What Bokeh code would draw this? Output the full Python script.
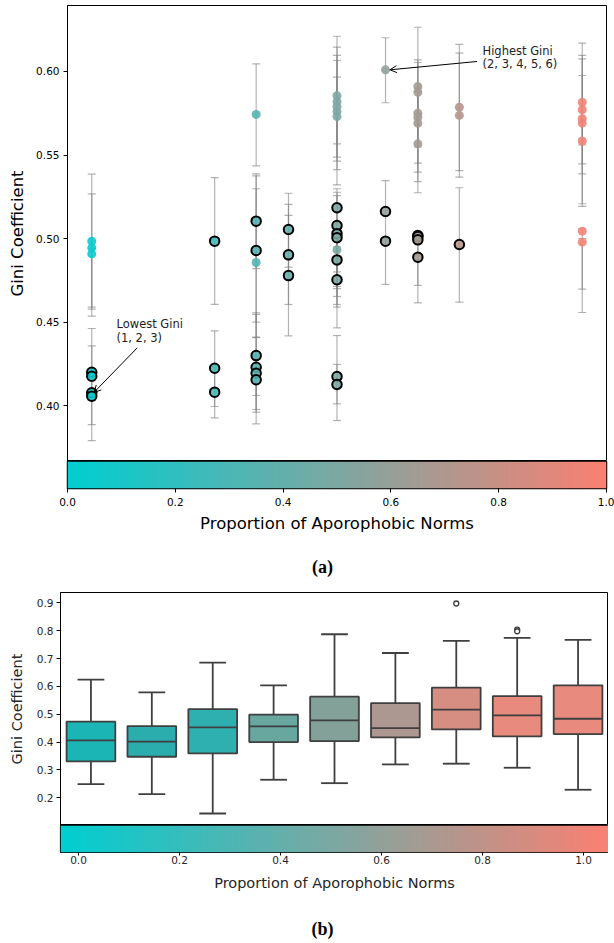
import numpy as np
from bokeh.plotting import figure
from bokeh.layouts import column
from bokeh.models import Range1d, FixedTicker, Arrow, OpenHead, PrintfTickFormatter
from bokeh.core.properties import value
from bokeh.embed import file_html
from bokeh.resources import INLINE

# ---------------- (a) data ----------------
# points without edge
fx = [0.045, 0.045, 0.045,
      0.35, 0.35,
      0.5, 0.5, 0.5, 0.5, 0.5, 0.5,
      0.59,
      0.65, 0.65, 0.65, 0.65, 0.65, 0.65,
      0.727, 0.727,
      0.955, 0.955, 0.955, 0.955, 0.955, 0.955, 0.955]
fy = [0.4984, 0.4944, 0.4908,
      0.5743, 0.4856,
      0.5855, 0.5820, 0.5790, 0.5760, 0.5730, 0.4932,
      0.6010,
      0.5910, 0.5876, 0.5750, 0.5726, 0.5690, 0.5567,
      0.5786, 0.5737,
      0.5816, 0.5771, 0.5717, 0.5691, 0.5583, 0.5044, 0.4978]
flo = [0.4589, 0.4577, 0.4535,
       0.5435, 0.4407,
       0.5567, 0.5487, 0.5463, 0.5413, 0.5321, 0.4700,
       0.5813,
       0.5548, 0.5682, 0.5451, 0.5397, 0.5341, 0.5274,
       0.5407, 0.5367,
       0.5447, 0.5387, 0.5208, 0.5192, 0.5560, 0.4697, 0.4557]
fhi = [0.5385, 0.5267, 0.4940,
       0.6046, 0.5298,
       0.6211, 0.6146, 0.6096, 0.6066, 0.5966, 0.5298,
       0.6202,
       0.6265, 0.6070, 0.6054, 0.5880, 0.5900, 0.5750,
       0.6162, 0.6110,
       0.6170, 0.6096, 0.6076, 0.5976, 0.5600, 0.5060, 0.5000]

# points with black edge
ex = [0.045, 0.045, 0.045, 0.045,
      0.273, 0.273, 0.273,
      0.35, 0.35, 0.35, 0.35, 0.35, 0.35,
      0.41, 0.41, 0.41,
      0.5, 0.5, 0.5, 0.5, 0.5, 0.5, 0.5, 0.5,
      0.59, 0.59,
      0.65, 0.65, 0.65, 0.65,
      0.727]
ey = [0.4199, 0.4175, 0.4076, 0.4056,
      0.4984, 0.4223, 0.4080,
      0.5104, 0.4928, 0.4299, 0.4229, 0.4193, 0.4154,
      0.5054, 0.4902, 0.4778,
      0.5184, 0.5078, 0.5029, 0.5005, 0.4872, 0.4753, 0.4174, 0.4126,
      0.5162, 0.4984,
      0.5018, 0.5012, 0.4992, 0.4888,
      0.4964]
elo = [0.3886, 0.3790, 0.4050, 0.4030,
       0.4605, 0.3994, 0.3926,
       0.4820, 0.4499, 0.4060, 0.3890, 0.3976, 0.3960,
       0.4828, 0.4605, 0.4417,
       0.4729, 0.4713, 0.4653, 0.4589, 0.4465, 0.4605, 0.4010, 0.3910,
       0.4990, 0.4725,
       0.4719, 0.4615, 0.4980, 0.4870,
       0.4619]
ehi = [0.4461, 0.4357, 0.4100, 0.4080,
       0.5364, 0.4447, 0.4234,
       0.5387, 0.5375, 0.4555, 0.4545, 0.4410, 0.4300,
       0.5271, 0.5204, 0.5138,
       0.5277, 0.5257, 0.5100, 0.5050, 0.4950, 0.4800, 0.4419, 0.4246,
       0.5347, 0.5000,
       0.5040, 0.5030, 0.5010, 0.4900,
       0.5304]

a_yticks = [0.40, 0.45, 0.50, 0.55, 0.60]
cbar_ticks = [0.0, 0.2, 0.4, 0.6, 0.8, 1.0]

ann_hi_lines = ["Highest Gini", "(2, 3, 4, 5, 6)"]
ann_lo_lines = ["Lowest Gini", "(1, 2, 3)"]

# ---------------- (b) data ----------------
b_pos = [0, 1, 2, 3, 4, 5, 6, 7, 8]
b_lo = [0.2489, 0.2130, 0.1435, 0.2647, 0.2525, 0.3198, 0.3223, 0.3079, 0.2288]
b_q1 = [0.3306, 0.3474, 0.3594, 0.4000, 0.4036, 0.4169, 0.4457, 0.4205, 0.4288]
b_med = [0.4061, 0.4014, 0.4529, 0.4565, 0.4781, 0.4504, 0.5165, 0.4960, 0.4838]
b_q3 = [0.4734, 0.4576, 0.5187, 0.4986, 0.5633, 0.5403, 0.5957, 0.5655, 0.6040]
b_hi = [0.6244, 0.5788, 0.6856, 0.6040, 0.7874, 0.7201, 0.7633, 0.7741, 0.7669]
flier_pos = [6, 7, 7]
flier_y = [0.8978, 0.8043, 0.7982]
b_yticks = [0.2, 0.3, 0.4, 0.5, 0.6, 0.7, 0.8, 0.9]
box_colors = ["#1bb5b5", "#2cadad", "#2eb0b0", "#68a6a0", "#83a099",
              "#ac9890", "#d68e82", "#e88a7e", "#e88a7e"]

FONT = "DejaVu Sans"
C0 = np.array([0, 206, 209], dtype=float)
C1 = np.array([250, 128, 114], dtype=float)


def cmap(t):
    c = C0 + (C1 - C0) * t
    return "#%02x%02x%02x" % tuple(int(round(v)) for v in c)


def gradient_rgba(n=256):
    t = np.linspace(0, 1, n)
    img = np.zeros((1, n), dtype=np.uint32)
    view = img.view(dtype=np.uint8).reshape((1, n, 4))
    for i, tt in enumerate(t):
        c = C0 + (C1 - C0) * tt
        view[0, i, 0] = int(round(c[0]))
        view[0, i, 1] = int(round(c[1]))
        view[0, i, 2] = int(round(c[2]))
        view[0, i, 3] = 255
    return img


def style_axis(ax, size, color, label_size):
    ax.major_label_text_font = FONT
    ax.major_label_text_font_size = size
    ax.major_label_text_color = color
    ax.axis_label_text_font = FONT
    ax.axis_label_text_font_size = label_size
    ax.axis_label_text_font_style = "normal"
    ax.axis_label_text_color = color
    ax.axis_line_color = "black"
    ax.major_tick_line_color = "black"
    ax.minor_tick_line_color = None
    ax.major_tick_in = 0
    ax.major_tick_out = 4


def base_fig(**kw):
    f = figure(output_backend="svg", toolbar_location=None, frame_align=False, **kw)
    f.xgrid.visible = False
    f.ygrid.visible = False
    return f


# ---------------- figure (a) ----------------
p1 = base_fig(width=614, height=461, x_range=Range1d(0, 1), y_range=Range1d(0.36647, 0.63952),
              x_axis_location=None,
              min_border_left=67, min_border_right=8, min_border_top=5, min_border_bottom=0)
p1.outline_line_color = "black"
p1.outline_line_alpha = 1
style_axis(p1.yaxis[0], "10.5px", "black", "16.5px")
p1.yaxis.ticker = FixedTicker(ticks=a_yticks)
p1.yaxis.formatter = PrintfTickFormatter(format="%.2f")
p1.yaxis.axis_label = "Gini Coefficient"
p1.yaxis.major_label_standoff = 4
p1.yaxis.axis_label_standoff = 6

all_x = fx + ex
all_lo = flo + elo
all_hi = fhi + ehi
p1.segment(x0=all_x, y0=all_lo, x1=all_x, y1=all_hi, line_color="gray", line_alpha=0.6, line_width=1.2)
p1.scatter(x=all_x + all_x, y=all_lo + all_hi, marker="dash", size=8, line_color="gray",
           line_alpha=0.6, line_width=1.2)
p1.scatter(x=fx, y=fy, size=9, fill_color=[cmap(v) for v in fx], line_color=None, fill_alpha=0.9)
p1.scatter(x=ex, y=ey, size=9.5, fill_color=[cmap(v) for v in ex], line_color="black",
           line_width=2, fill_alpha=0.9)

# annotations
hi_pt = (0.59, 0.6010)
lo_pt = (0.045, 0.4056)
p1.add_layout(Arrow(end=OpenHead(size=7, line_width=1, line_color="black"),
                    x_start=0.760, y_start=0.6060, x_end=hi_pt[0] + 0.008, y_end=hi_pt[1],
                    line_width=1, line_color="black"))
p1.add_layout(Arrow(end=OpenHead(size=7, line_width=1, line_color="black"),
                    x_start=0.1293, y_start=0.4345, x_end=lo_pt[0] + 0.004, y_end=lo_pt[1] + 0.0022,
                    line_width=1, line_color="black"))
p1.text(x=[0.770, 0.770], y=[0.6122, 0.6046], text=ann_hi_lines, text_font=value(FONT),
        text_font_size="11.5px", text_baseline="middle", text_align="left", text_color="#222222")
p1.text(x=[0.0909, 0.0909], y=[0.4489, 0.4403], text=ann_lo_lines, text_font=value(FONT),
        text_font_size="11.5px", text_baseline="middle", text_align="left", text_color="#222222")

# colorbar (a)
p2 = base_fig(width=614, height=79, x_range=Range1d(0, 1), y_range=Range1d(0, 1),
              y_axis_location=None,
              min_border_left=67, min_border_right=8, min_border_top=0, min_border_bottom=52)
p2.outline_line_color = "black"
p2.outline_line_width = 1.5
p2.image_rgba(image=[gradient_rgba()], x=0, y=0, dw=1, dh=1)
style_axis(p2.xaxis[0], "10.5px", "black", "16.5px")
p2.xaxis.ticker = FixedTicker(ticks=cbar_ticks)
p2.xaxis.formatter = PrintfTickFormatter(format="%.1f")
p2.xaxis.axis_label = "Proportion of Aporophobic Norms"
p2.xaxis.major_label_standoff = 5
p2.xaxis.axis_label_standoff = 5
p2.xaxis.axis_line_color = None

# caption (a)
p3 = base_fig(width=614, height=52, x_range=Range1d(0, 614), y_range=Range1d(0, 52),
              x_axis_location=None, y_axis_location=None, min_border=0)
p3.outline_line_color = None
p3.text(x=[322], y=[26], text=["(a)"], text_font=value("Liberation Serif"), text_font_style="bold",
        text_font_size="18px", text_align="center", text_baseline="middle", text_color="black")

# ---------------- figure (b) ----------------
p4 = base_fig(width=608, height=233, x_range=Range1d(-0.5, 8.5), y_range=Range1d(0.1004, 0.9374),
              x_axis_location=None,
              min_border_left=60, min_border_right=0, min_border_top=0, min_border_bottom=0)
p4.outline_line_color = "black"
p4.outline_line_alpha = 1
style_axis(p4.yaxis[0], "10.5px", "#262626", "14.5px")
p4.yaxis.ticker = FixedTicker(ticks=b_yticks)
p4.yaxis.formatter = PrintfTickFormatter(format="%.1f")
p4.yaxis.axis_label = "Gini Coefficient"
p4.yaxis.major_label_standoff = 3
p4.yaxis.axis_label_standoff = 9

BOXC = "#3f3f3f"
bw = 0.4
cw = 0.22
p4.segment(x0=b_pos, y0=b_q3, x1=b_pos, y1=b_hi, line_color=BOXC, line_width=1.8)
p4.segment(x0=b_pos, y0=b_lo, x1=b_pos, y1=b_q1, line_color=BOXC, line_width=1.8)
p4.segment(x0=[v - cw for v in b_pos], y0=b_hi, x1=[v + cw for v in b_pos], y1=b_hi,
           line_color=BOXC, line_width=1.8)
p4.segment(x0=[v - cw for v in b_pos], y0=b_lo, x1=[v + cw for v in b_pos], y1=b_lo,
           line_color=BOXC, line_width=1.8)
p4.quad(left=[v - bw for v in b_pos], right=[v + bw for v in b_pos], bottom=b_q1, top=b_q3,
        fill_color=box_colors, line_color=BOXC, line_width=1.8)
p4.segment(x0=[v - bw for v in b_pos], y0=b_med, x1=[v + bw for v in b_pos], y1=b_med,
           line_color=BOXC, line_width=1.8)
p4.scatter(x=flier_pos, y=flier_y, size=5, fill_color="white", line_color=BOXC, line_width=1.3)

# colorbar (b)
p5 = base_fig(width=608, height=75, x_range=Range1d(-0.0356, 1.0495), y_range=Range1d(0, 1),
              y_axis_location=None,
              min_border_left=60, min_border_right=0, min_border_top=0, min_border_bottom=48)
p5.outline_line_color = "black"
p5.outline_line_width = 1.2
p5.image_rgba(image=[gradient_rgba()], x=-0.0356, y=0, dw=1.0851, dh=1)
style_axis(p5.xaxis[0], "10.5px", "#262626", "14.5px")
p5.xaxis.ticker = FixedTicker(ticks=cbar_ticks)
p5.xaxis.formatter = PrintfTickFormatter(format="%.1f")
p5.xaxis.axis_label = "Proportion of Aporophobic Norms"
p5.xaxis.major_tick_out = 3
p5.xaxis.major_label_standoff = 0
p5.xaxis.axis_label_standoff = 8
p5.xaxis.axis_line_color = None

# caption (b)
p6 = base_fig(width=614, height=42, x_range=Range1d(0, 614), y_range=Range1d(0, 42),
              x_axis_location=None, y_axis_location=None, min_border=0)
p6.outline_line_color = None
p6.text(x=[322], y=[14], text=["(b)"], text_font=value("Liberation Serif"), text_font_style="bold",
        text_font_size="18px", text_align="center", text_baseline="middle", text_color="black")

layout = column(p1, p2, p3, p4, p5, p6, spacing=0)
open("out.html", "w").write(file_html(layout, INLINE))
